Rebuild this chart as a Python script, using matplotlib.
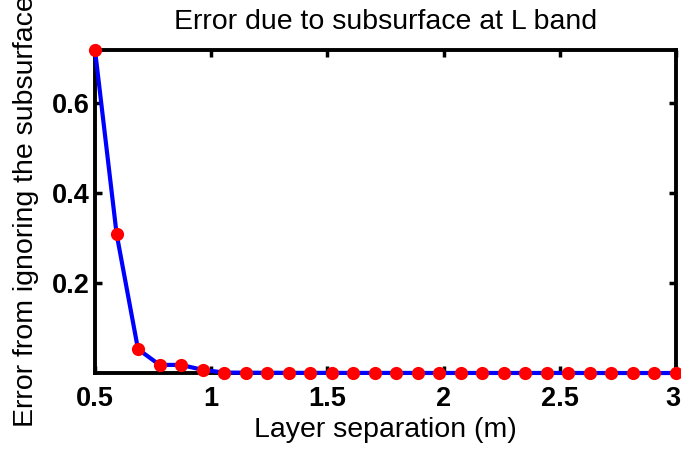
import matplotlib
matplotlib.use('Agg')
import matplotlib.pyplot as plt
from matplotlib.transforms import ScaledTranslation

# Layer separation (m)
sep = [0.500, 0.593, 0.685, 0.778, 0.870, 0.963, 1.056, 1.148, 1.241, 1.333,
       1.426, 1.519, 1.611, 1.704, 1.796, 1.889, 1.981, 2.074, 2.167, 2.259,
       2.352, 2.444, 2.537, 2.630, 2.722, 2.815, 2.907, 3.000]
# Error from ignoring the subsurface
err = [0.718, 0.309, 0.053, 0.018, 0.018, 0.007, 0.001, 0.0007, 0.0005, 0.0004,
       0.0003, 0.0003, 0.0002, 0.0002, 0.0002, 0.0001, 0.0001, 0.0001, 0.0001, 0.0001,
       0.0001, 0.0001, 0.0001, 0.0, 0.0, 0.0, 0.0, 0.0]

xticks = [0.5, 1, 1.5, 2, 2.5, 3]
yticks = [0.2, 0.4, 0.6]

plt.rcParams['font.family'] = ['Liberation Sans', 'DejaVu Sans']

fig = plt.figure(figsize=(6.81, 4.5), dpi=100)
ax = fig.add_axes([0.1395, 0.1711, 0.8532, 0.7178])

# Plot
ax.plot(sep, err, '-', color='#0000ff', linewidth=3, zorder=3, clip_on=False)
ax.plot(sep, err, 'o', color='#ff0000', markersize=9.5, markeredgewidth=0,
        zorder=4, clip_on=False)

ax.set_xlim(0.5, 3)
ax.set_ylim(0, 0.718)
ax.set_xticks(xticks)
ax.set_xticklabels(['0.5', '1', '1.5', '2', '2.5', '3'])
ax.set_yticks(yticks)
ax.set_yticklabels(['0.2', '0.4', '0.6'])

# Labels
ax.set_xlabel('Layer separation (m)', fontsize=20.5, labelpad=4)
ax.set_ylabel('Error from ignoring the subsurface', fontsize=20.5, labelpad=9)
ax.set_title('Error due to subsurface at L band', fontsize=20.5, pad=15)

# Ticks and box
ax.tick_params(direction='in', top=True, right=True, length=5, width=2.5,
               labelsize=19.5)
ax.tick_params(axis='x', pad=9)
ax.tick_params(axis='y', pad=4)
for lbl in ax.get_xticklabels() + ax.get_yticklabels():
    lbl.set_fontweight('bold')
# keep the last x label inside the figure
last = ax.get_xticklabels()[-1]
last.set_transform(last.get_transform() + ScaledTranslation(-3 / 100, 0, fig.dpi_scale_trans))
for s in ax.spines.values():
    s.set_linewidth(2.8)

fig.savefig('out.png', dpi=100)
